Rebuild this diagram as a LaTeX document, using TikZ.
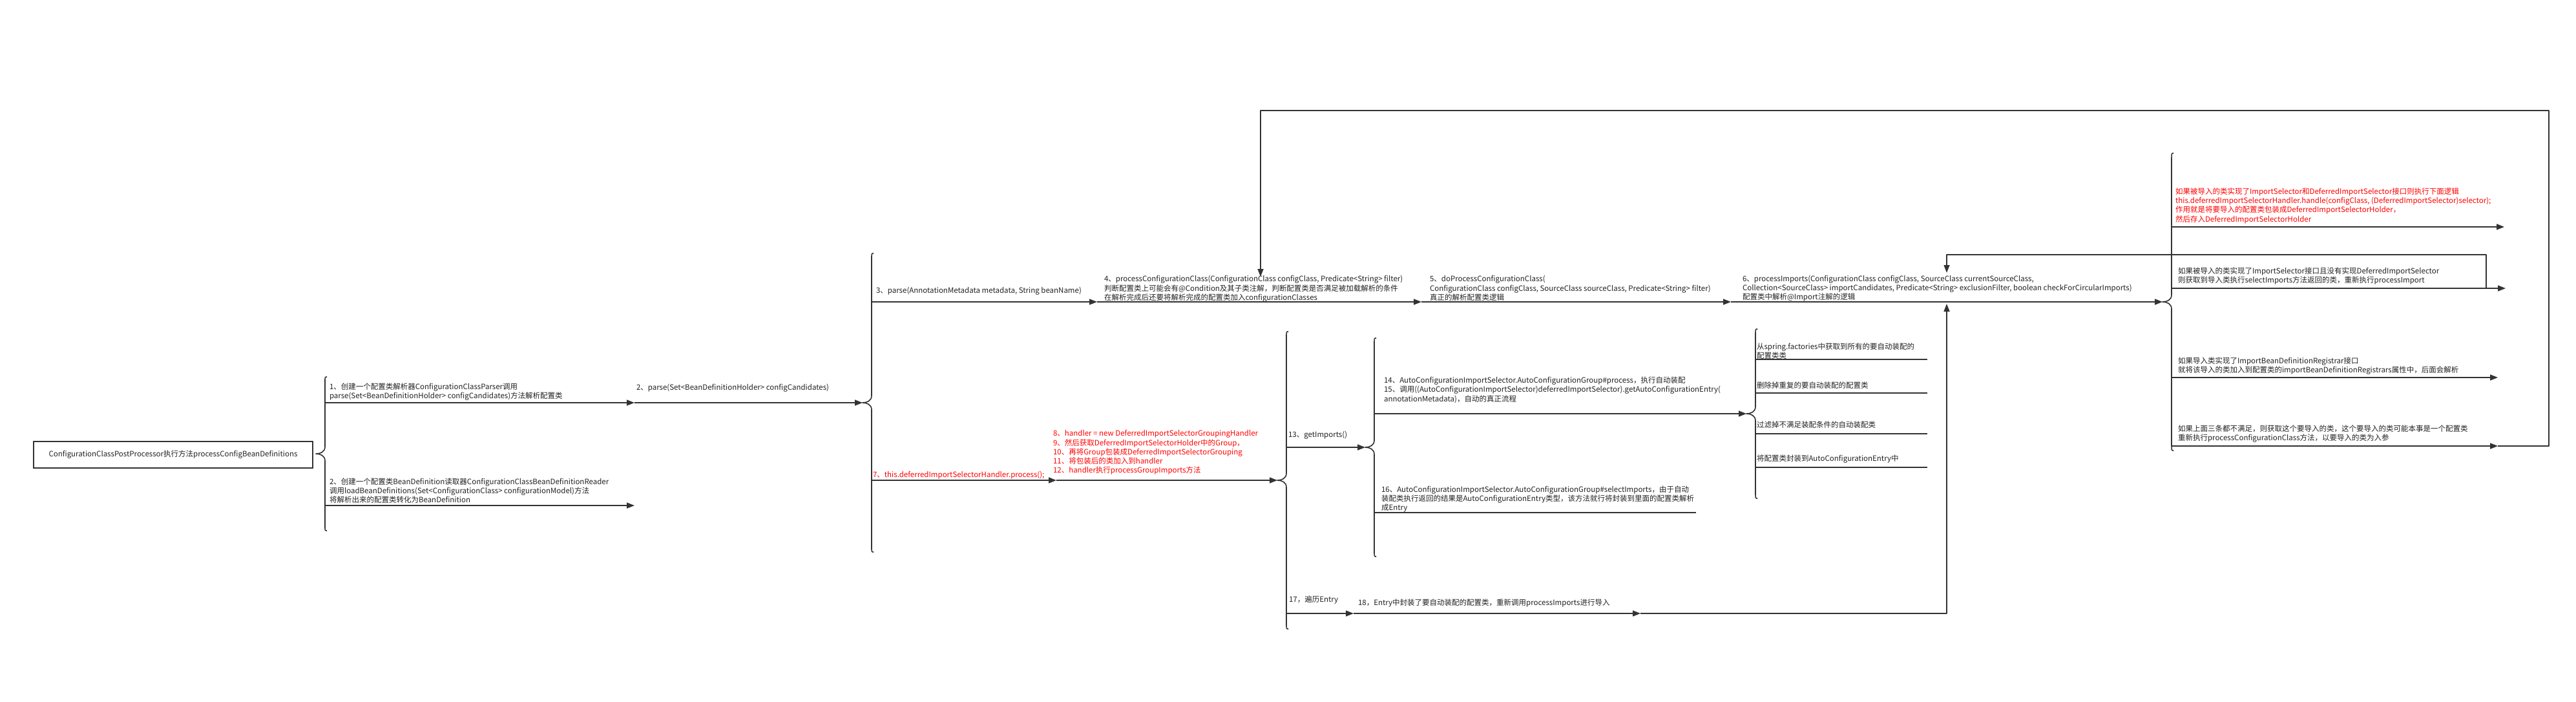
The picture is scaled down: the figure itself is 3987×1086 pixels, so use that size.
\documentclass[tikz,border=0pt]{standalone}
\usepackage{fontspec}
\setmainfont{Noto Sans CJK SC}
\usetikzlibrary{arrows.meta}

\begin{document}
\begin{tikzpicture}[x=1pt,y=-1pt,
  flowLine/.style={draw=drawColor,line width=1.6pt,line join=round},
  flowArrow/.style={flowLine,-{Triangle[length=12pt,width=9pt]}},
  stepText/.style={anchor=west,inner sep=0pt,outer sep=0pt,align=left,text=textColor,font=\fontsize{11.5}{14.3}\selectfont},
  noteText/.style={stepText,text=noteColor}]
\definecolor{fillColor}{RGB}{255,255,255}
\definecolor{drawColor}{RGB}{51,51,51}
\definecolor{textColor}{RGB}{34,34,34}
\definecolor{noteColor}{RGB}{255,0,0}
\path[use as bounding box,fill=fillColor] (0,0) rectangle (3987,1086);

\node[draw=drawColor,line width=1.6pt,text=textColor,inner sep=0pt,minimum width=432pt,minimum height=41pt,font=\fontsize{11.5}{14.3}\selectfont] (ccpp) at (268,703.5) {ConfigurationClassPostProcessor执行方法processConfigBeanDefinitions};

\coordinate (b1tip) at (489,702);
\coordinate (b2tip) at (1335,623);
\coordinate (b3tip) at (3347,467);
\coordinate (b13tip) at (1977,743);
\coordinate (b14tip) at (2113,692);
\coordinate (b15tip) at (2703,640);

\path[flowLine] (506,583) .. controls (503,583) and (503,583) .. (503,591) -- (503,691) .. controls (503,699) and (496,702) .. (b1tip) .. controls (496,702) and (503,705) .. (503,713) -- (503,813) .. controls (503,821) and (503,821) .. (506,821);
\path[flowLine] (1352,392) .. controls (1349,392) and (1349,392) .. (1349,400) -- (1349,612) .. controls (1349,620) and (1342,623) .. (b2tip) .. controls (1342,623) and (1349,626) .. (1349,634) -- (1349,846) .. controls (1349,854) and (1349,854) .. (1352,854);
\path[flowLine] (3364,237) .. controls (3361,237) and (3361,237) .. (3361,245) -- (3361,456) .. controls (3361,464) and (3354,467) .. (b3tip) .. controls (3354,467) and (3361,470) .. (3361,478) -- (3361,689) .. controls (3361,697) and (3361,697) .. (3364,697);
\path[flowLine] (1994,513) .. controls (1991,513) and (1991,513) .. (1991,521) -- (1991,732) .. controls (1991,740) and (1984,743) .. (b13tip) .. controls (1984,743) and (1991,746) .. (1991,754) -- (1991,965) .. controls (1991,973) and (1991,973) .. (1994,973);
\path[flowLine] (2130,523) .. controls (2127,523) and (2127,523) .. (2127,531) -- (2127,681) .. controls (2127,689) and (2120,692) .. (b14tip) .. controls (2120,692) and (2127,695) .. (2127,703) -- (2127,853) .. controls (2127,861) and (2127,861) .. (2130,861);
\path[flowLine] (2720,509) .. controls (2717,509) and (2717,509) .. (2717,517) -- (2717,629) .. controls (2717,637) and (2710,640) .. (b15tip) .. controls (2710,640) and (2717,643) .. (2717,651) -- (2717,763) .. controls (2717,771) and (2717,771) .. (2720,771);

\coordinate (parseStart) at (503,623);
\coordinate (parseEnd) at (982,623);
\coordinate (loadStart) at (503,782);
\coordinate (loadEnd) at (982,782);
\path[flowArrow] (parseStart) -- (parseEnd);
\path[flowArrow] (parseEnd) -- (b2tip);
\path[flowArrow] (loadStart) -- (loadEnd);

\coordinate (mainStart) at (1349,467);
\coordinate (pccEnd) at (1698,467);
\coordinate (dpccEnd) at (2200,467);
\coordinate (impEnd) at (2679,467);
\path[flowArrow] (mainStart) -- (pccEnd);
\path[flowArrow] (pccEnd) -- (dpccEnd);
\path[flowArrow] (dpccEnd) -- (impEnd);
\path[flowArrow] (impEnd) -- (b3tip);

\coordinate (deferStart) at (1349,743);
\coordinate (deferEnd) at (1635,743);
\path[flowArrow] (deferStart) -- (deferEnd);
\path[flowArrow] (deferEnd) -- (b13tip);

\coordinate (getStart) at (1991,692);
\path[flowArrow] (getStart) -- (b14tip);
\coordinate (procStart) at (2127,640);
\path[flowArrow] (procStart) -- (b15tip);
\coordinate (selStart) at (2127,793);
\coordinate (selEnd) at (2625,793);
\path[flowLine] (selStart) -- (selEnd);

\coordinate (itemA) at (2717,556);
\coordinate (itemB) at (2717,608);
\coordinate (itemC) at (2717,671);
\coordinate (itemD) at (2717,723);
\coordinate (itemAEnd) at (2983,556);
\coordinate (itemBEnd) at (2983,608);
\coordinate (itemCEnd) at (2983,671);
\coordinate (itemDEnd) at (2983,723);
\path[flowLine] (itemA) -- (itemAEnd);
\path[flowLine] (itemB) -- (itemBEnd);
\path[flowLine] (itemC) -- (itemCEnd);
\path[flowLine] (itemD) -- (itemDEnd);

\coordinate (entryStart) at (1991,949);
\coordinate (entryA) at (2095,949);
\coordinate (entryB) at (2539,949);
\coordinate (entryC) at (3013,949);
\coordinate (entryUp) at (3013,470);
\path[flowArrow] (entryStart) -- (entryA);
\path[flowArrow] (entryA) -- (entryB);
\path[flowArrow] (entryB) -- (entryC) -- (entryUp);

\coordinate (condAStart) at (3361,351);
\coordinate (condAEnd) at (3876,351);
\coordinate (condBStart) at (3361,446);
\coordinate (condBEnd) at (3878,446);
\coordinate (condCStart) at (3361,584);
\coordinate (condCEnd) at (3866,584);
\coordinate (condDStart) at (3361,690);
\coordinate (condDEnd) at (3866,690);
\path[flowArrow] (condAStart) -- (condAEnd);
\path[flowArrow] (condBStart) -- (condBEnd);
\path[flowArrow] (condCStart) -- (condCEnd);
\path[flowArrow] (condDStart) -- (condDEnd);

\coordinate (loopSmallA) at (3848,446);
\coordinate (loopSmallB) at (3848,394);
\coordinate (loopSmallC) at (3013,394);
\coordinate (loopSmallEnd) at (3013,422);
\path[flowArrow] (loopSmallA) -- (loopSmallB) -- (loopSmallC) -- (loopSmallEnd);

\coordinate (loopBigA) at (3945,690);
\coordinate (loopBigB) at (3945,171);
\coordinate (loopBigC) at (1951,171);
\coordinate (loopBigEnd) at (1951,428);
\path[flowArrow] (condDEnd) -- (loopBigA) -- (loopBigB) -- (loopBigC) -- (loopBigEnd);

\node[stepText] (stepOne) at (510,606) {1、创建一个配置类解析器ConfigurationClassParser调用\\parse(Set<BeanDefinitionHolder> configCandidates)方法解析配置类};
\node[stepText] (stepTwo) at (510,759) {2、创建一个配置类BeanDefinition读取器ConfigurationClassBeanDefinitionReader\\调用loadBeanDefinitions(Set<ConfigurationClass> configurationModel)方法\\将解析出来的配置类转化为BeanDefinition};
\node[stepText] (stepParse) at (985,600) {2、parse(Set<BeanDefinitionHolder> configCandidates)};
\node[stepText] (stepThree) at (1356,450) {3、parse(AnnotationMetadata metadata, String beanName)};
\node[stepText] (stepFour) at (1709,447) {4、processConfigurationClass(ConfigurationClass configClass, Predicate<String> filter)\\判断配置类上可能会有@Condition及其子类注解，判断配置类是否满足被加载解析的条件\\在解析完成后还要将解析完成的配置类加入configurationClasses};
\node[stepText] (stepFive) at (2213,446) {5、doProcessConfigurationClass(\\ConfigurationClass configClass, SourceClass sourceClass, Predicate<String> filter)\\真正的解析配置类逻辑};
\node[stepText] (stepSix) at (2697,446) {6、processImports(ConfigurationClass configClass, SourceClass currentSourceClass,\\Collection<SourceClass> importCandidates, Predicate<String> exclusionFilter, boolean checkForCircularImports)\\配置类中解析@Import注解的逻辑};
\node[noteText] (stepSeven) at (1351,735) {7、this.deferredImportSelectorHandler.process();};
\node[noteText] (stepEight) at (1630,700) {8、handler = new DeferredImportSelectorGroupingHandler\\9、然后获取DeferredImportSelectorHolder中的Group，\\10、再将Group包装成DeferredImportSelectorGrouping\\11、将包装后的类加入到handler\\12、handler执行processGroupImports方法};
\node[stepText] (stepThirteen) at (1994,673) {13、getImports()};
\node[stepText] (stepFourteen) at (2142,603) {14、AutoConfigurationImportSelector.AutoConfigurationGroup\#process，执行自动装配\\15、调用((AutoConfigurationImportSelector)deferredImportSelector).getAutoConfigurationEntry(\\annotationMetadata)，自动的真正流程};
\node[stepText] (stepSixteen) at (2138,772) {16、AutoConfigurationImportSelector.AutoConfigurationGroup\#selectImports，由于自动\\装配类执行返回的结果是AutoConfigurationEntry类型，该方法就行将封装到里面的配置类解析\\成Entry};
\node[stepText] (itemAText) at (2719,543) {从spring.factories中获取到所有的要自动装配的\\配置类类};
\node[stepText] (itemBText) at (2719,596) {删除掉重复的要自动装配的配置类};
\node[stepText] (itemCText) at (2719,657) {过滤掉不满足装配条件的自动装配类};
\node[stepText] (itemDText) at (2719,710) {将配置类封装到AutoConfigurationEntry中};
\node[stepText] (stepSeventeen) at (1995,928) {17，遍历Entry};
\node[stepText] (stepEighteen) at (2102,933) {18，Entry中封装了要自动装配的配置类，重新调用processImports进行导入};
\node[noteText] (condAText) at (3367,318) {如果被导入的类实现了ImportSelector和DeferredImportSelector接口则执行下面逻辑\\this.deferredImportSelectorHandler.handle(configClass, (DeferredImportSelector)selector);\\作用就是将要导入的配置类包装成DeferredImportSelectorHolder，\\然后存入DeferredImportSelectorHolder};
\node[stepText] (condBText) at (3371,427) {如果被导入的类实现了ImportSelector接口且没有实现DeferredImportSelector\\则获取到导入类执行selectImports方法返回的类，重新执行processImport};
\node[stepText] (condCText) at (3371,566) {如果导入类实现了ImportBeanDefinitionRegistrar接口\\就将该导入的类加入到配置类的importBeanDefinitionRegistrars属性中，后面会解析};
\node[stepText] (condDText) at (3371,671) {如果上面三条都不满足，则获取这个要导入的类，这个要导入的类可能本事是一个配置类\\重新执行processConfigurationClass方法，以要导入的类为入参};
\end{tikzpicture}
\end{document}
